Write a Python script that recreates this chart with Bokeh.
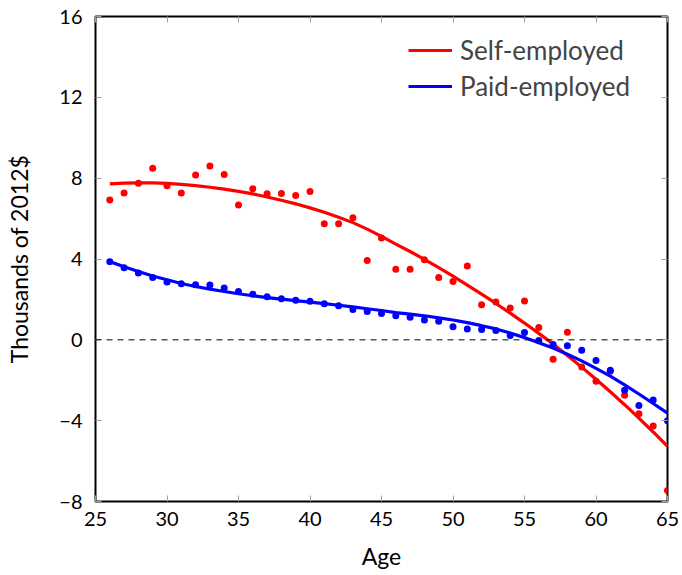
from bokeh.plotting import figure
from bokeh.models import Range1d, FixedTicker, LinearAxis, Span
from bokeh.embed import file_html
from bokeh.resources import INLINE

ages = list(range(26, 66))

self_points = [6.92, 7.27, 7.75, 8.49, 7.63, 7.26, 8.16, 8.60, 8.18, 6.67,
               7.48, 7.23, 7.24, 7.14, 7.34, 5.74, 5.75, 6.04, 3.93, 5.04,
               3.49, 3.49, 3.96, 3.09, 2.89, 3.65, 1.73, 1.87, 1.57, 1.92,
               0.61, -0.96, 0.38, -1.34, -2.05, -1.55, -2.74, -3.66, -4.26, -7.46]

paid_points = [3.87, 3.57, 3.31, 3.09, 2.86, 2.78, 2.73, 2.71, 2.57, 2.39,
               2.26, 2.13, 2.03, 1.96, 1.91, 1.78, 1.69, 1.50, 1.40, 1.30,
               1.19, 1.12, 0.98, 0.92, 0.65, 0.54, 0.51, 0.46, 0.21, 0.36,
               -0.03, -0.23, -0.29, -0.51, -1.02, -1.50, -2.49, -3.25, -2.98, -4.01]

self_fit = [7.72, 7.75, 7.77, 7.77, 7.74, 7.69, 7.63, 7.55, 7.46, 7.35,
            7.22, 7.07, 6.91, 6.73, 6.53, 6.31, 6.07, 5.80, 5.48, 5.12,
            4.74, 4.37, 3.98, 3.57, 3.15, 2.71, 2.26, 1.80, 1.32, 0.83,
            0.32, -0.21, -0.77, -1.35, -1.95, -2.57, -3.21, -3.87, -4.56, -5.27]

paid_fit = [3.87, 3.62, 3.38, 3.16, 2.97, 2.79, 2.64, 2.51, 2.39, 2.28,
            2.18, 2.09, 2.01, 1.94, 1.87, 1.79, 1.71, 1.63, 1.54, 1.45,
            1.35, 1.27, 1.19, 1.09, 0.98, 0.85, 0.70, 0.54, 0.34, 0.11,
            -0.14, -0.41, -0.71, -1.04, -1.41, -1.80, -2.23, -2.68, -3.15, -3.63]

x_ticks = [25, 30, 35, 40, 45, 50, 55, 60, 65]
y_ticks = [-8, -4, 0, 4, 8, 12, 16]
y_tick_labels = {-8: "\u22128", -4: "\u22124", 0: "0", 4: "4", 8: "8", 12: "12", 16: "16"}

FONT = "Lato"

p = figure(width=680, height=572, output_backend="svg", toolbar_location=None,
           x_range=Range1d(25, 65), y_range=Range1d(-8, 16),
           x_axis_location=None, y_axis_location=None,
           min_border_left=95, min_border_right=13, min_border_top=16, min_border_bottom=68)
p.grid.visible = False
p.outline_line_color = "black"
p.outline_line_width = 2
p.background_fill_color = "white"
p.border_fill_color = "white"


def style_axis(ax, labels=True):
    ax.minor_tick_line_color = None
    ax.major_tick_in = 6
    ax.major_tick_out = 0
    ax.major_tick_line_color = "#a0a0a0"
    ax.major_tick_line_width = 1
    ax.axis_line_color = None
    if labels:
        ax.major_label_text_font = FONT
        ax.major_label_text_font_size = "20px"
        ax.major_label_text_color = "black"
        ax.axis_label_text_font = FONT
        ax.axis_label_text_font_size = "23px"
        ax.axis_label_text_font_style = "normal"
        ax.axis_label_text_color = "black"
    else:
        ax.major_label_text_color = None
        ax.major_label_standoff = 0


xb = LinearAxis(ticker=FixedTicker(ticks=x_ticks), axis_label="Age")
style_axis(xb)
xb.major_label_standoff = 10
xb.axis_label_standoff = 13
p.add_layout(xb, "below")

yl = LinearAxis(ticker=FixedTicker(ticks=y_ticks), axis_label="Thousands of 2012$",
                major_label_overrides=y_tick_labels)
style_axis(yl)
yl.major_label_standoff = 13
yl.axis_label_standoff = 23
p.add_layout(yl, "left")

xt = LinearAxis(ticker=FixedTicker(ticks=x_ticks),
                major_label_overrides={t: "" for t in x_ticks})
style_axis(xt, labels=False)
p.add_layout(xt, "above")

yr = LinearAxis(ticker=FixedTicker(ticks=y_ticks),
                major_label_overrides={t: "" for t in y_ticks})
style_axis(yr, labels=False)
p.add_layout(yr, "right")

p.add_layout(Span(location=0, dimension="width", line_color="black",
                  line_width=1, line_dash="6 5"))

p.line(ages, self_fit, line_color="#ff0000", line_width=3.2, legend_label="Self-employed")
p.scatter(ages, self_points, size=7, fill_color="#ff0000", line_color=None)
p.line(ages, paid_fit, line_color="#0000ff", line_width=3.2, legend_label="Paid-employed")
p.scatter(ages, paid_points, size=7, fill_color="#0000ff", line_color=None)

lg = p.legend[0]
lg.location = (313, 397)
lg.border_line_color = None
lg.background_fill_alpha = 0
lg.label_text_font = FONT
lg.label_text_font_size = "26px"
lg.glyph_width = 44
lg.glyph_height = 36
lg.label_height = 36
lg.spacing = 0
lg.padding = 0
lg.margin = 0
lg.label_standoff = 8

open("out.html", "w").write(file_html(p, INLINE))
